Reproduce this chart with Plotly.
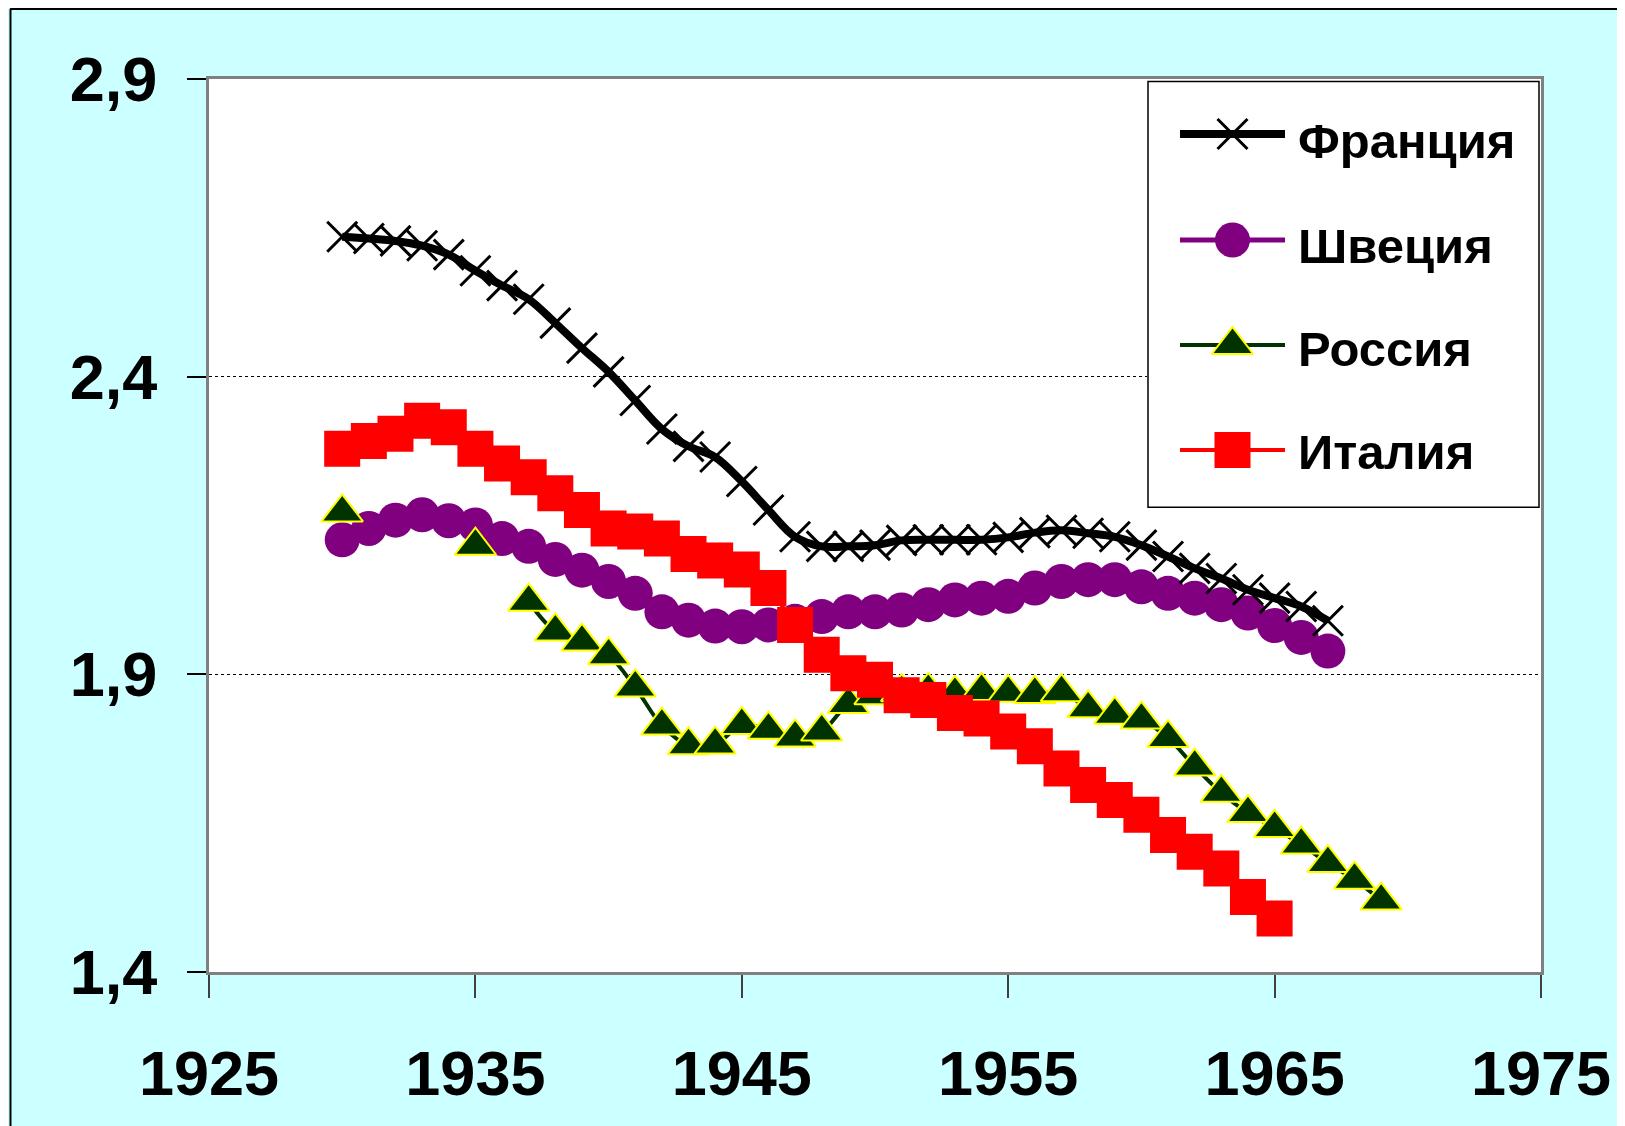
import plotly.graph_objects as go

# ---------------- data ----------------
years_france = list(range(1930, 1968))
france = [2.635, 2.632, 2.628, 2.620, 2.605, 2.578, 2.553, 2.530, 2.490, 2.448,
          2.408, 2.360, 2.312, 2.283, 2.265, 2.224, 2.176, 2.131, 2.115, 2.115,
          2.117, 2.125, 2.126, 2.126, 2.126, 2.130, 2.138, 2.142, 2.137, 2.131,
          2.117, 2.098, 2.078, 2.061, 2.042, 2.028, 2.014, 1.990]

years_sweden = list(range(1930, 1968))
sweden = [2.126, 2.145, 2.159, 2.168, 2.158, 2.151, 2.128, 2.115, 2.093, 2.075,
          2.056, 2.036, 2.005, 1.991, 1.981, 1.980, 1.983, 1.989, 1.997, 2.005,
          2.005, 2.008, 2.017, 2.025, 2.028, 2.031, 2.045, 2.056, 2.059, 2.059,
          2.047, 2.036, 2.028, 2.017, 2.003, 1.982, 1.962, 1.939]

# missing years (1931-1934, 1936) are gaps in the source
years_russia = list(range(1930, 1970))
russia = [2.172, None, None, None, None, 2.116, None, 2.022, 1.972, 1.955,
          1.932, 1.878, 1.814, 1.781, 1.782, 1.815, 1.807, 1.794, 1.804, 1.850,
          1.865, 1.870, 1.872, 1.867, 1.872, 1.869, 1.867, 1.870, 1.843, 1.832,
          1.824, 1.793, 1.745, 1.701, 1.667, 1.642, 1.614, 1.583, 1.555, 1.520]

years_italy = list(range(1930, 1966))
italy = [2.279, 2.292, 2.304, 2.326, 2.315, 2.279, 2.254, 2.231, 2.204, 2.176,
         2.145, 2.140, 2.128, 2.102, 2.091, 2.076, 2.045, 1.983, 1.933, 1.902,
         1.891, 1.865, 1.857, 1.835, 1.826, 1.804, 1.779, 1.742, 1.714, 1.689,
         1.664, 1.630, 1.602, 1.574, 1.526, 1.490]

series_names = ["Франция", "Швеция", "Россия", "Италия"]
x_ticks = [1925, 1935, 1945, 1955, 1965, 1975]
y_ticks = [1.4, 1.9, 2.4, 2.9]
y_tick_text = ["1,4", "1,9", "2,4", "2,9"]

# ---------------- styles ----------------
FONT = "Liberation Sans, Arial, sans-serif"
styles = {
    "Франция": dict(line=dict(color="#000000", width=8, shape="spline"),
                    marker=dict(symbol="x-thin", size=30, color="#000000",
                                line=dict(color="#000000", width=3))),
    "Швеция": dict(line=dict(color="#800080", width=5, shape="spline"),
                   marker=dict(symbol="circle", size=35, color="#800080",
                               line=dict(width=0))),
    "Россия": dict(line=dict(color="#003300", width=4, shape="spline"),
                   marker=dict(symbol="triangle-up", size=36, color="#003300",
                               line=dict(color="#FFFF00", width=2))),
    "Италия": dict(line=dict(color="#FF0000", width=4, shape="spline"),
                   marker=dict(symbol="square", size=36, color="#FF0000",
                               line=dict(width=0))),
}
series_data = {
    "Франция": (years_france, france),
    "Швеция": (years_sweden, sweden),
    "Россия": (years_russia, russia),
    "Италия": (years_italy, italy),
}

fig = go.Figure()

# drawing order (later on top)
for name in ["Швеция", "Франция", "Россия", "Италия"]:
    xs, ys = series_data[name]
    st = styles[name]
    fig.add_trace(go.Scatter(x=xs, y=ys, mode="lines+markers", name=name,
                             line=st["line"], marker=st["marker"],
                             connectgaps=False,
                             showlegend=False, hoverinfo="x+y+name",
                             xaxis="x", yaxis="y"))

# ---------------- geometry (page has an 8px body margin) ----------------
W_PX, H_PX = 1617, 1118
M_L, M_R, M_T, M_B = 201, 84, 71, 154
plot_w = W_PX - M_L - M_R
plot_h = H_PX - M_T - M_B
box_left_px, box_bottom_px = 1139, 500
box_w = (M_L + plot_w) - box_left_px
box_h = box_bottom_px - M_T
dom_x = [(box_left_px - M_L) / plot_w, 1.0]
dom_y = [(M_T + plot_h - box_bottom_px) / plot_h, 1.0]


def px_x(px):
    return (px - M_L) / plot_w


def px_y(py):
    return (M_T + plot_h - py) / plot_h


# ---------------- manual legend (subplot x2/y2 in pixel-like units) ----------------
sample_rows = [55, 161, 266, 371]
text_rows = [62, 167, 270, 373]
for name, ry in zip(series_names, sample_rows):
    st = styles[name]
    ln = dict(st["line"])
    ln["shape"] = "linear"
    fig.add_trace(go.Scatter(x=[33, 138], y=[ry, ry], mode="lines", line=ln,
                             showlegend=False, hoverinfo="skip",
                             xaxis="x2", yaxis="y2"))
    fig.add_trace(go.Scatter(x=[85.5], y=[ry], mode="markers", marker=st["marker"],
                             showlegend=False, hoverinfo="skip",
                             xaxis="x2", yaxis="y2"))

annotations = []
for name, ty in zip(series_names, text_rows):
    annotations.append(dict(x=149, y=ty, xref="x2", yref="y2", text=name,
                            showarrow=False, xanchor="left", yanchor="middle",
                            font=dict(family=FONT, size=49, color="#000000",
                                      weight="bold")))

shapes = [
    # legend box
    dict(type="rect", xref="x2", yref="y2", x0=1, x1=box_w - 2, y0=2.5, y1=box_h - 0.8,
         fillcolor="#FFFFFF", line=dict(color="#000000", width=1.5), layer="below"),
    # outer frame lines (top and left)
    dict(type="line", xref="paper", yref="paper",
         x0=px_x(2), x1=px_x(W_PX + 10), y0=px_y(1), y1=px_y(1),
         line=dict(color="#000000", width=2), layer="above"),
    dict(type="line", xref="paper", yref="paper",
         x0=px_x(2.5), x1=px_x(2.5), y0=px_y(1), y1=px_y(H_PX + 10),
         line=dict(color="#000000", width=2), layer="above"),
]

tick_font = dict(family=FONT, size=63, color="#000000", weight="bold")

fig.update_layout(
    width=W_PX, height=H_PX,
    margin=dict(l=M_L, r=M_R, t=M_T, b=M_B, autoexpand=False),
    paper_bgcolor="#CCFFFF",
    plot_bgcolor="#FFFFFF",
    showlegend=False,
    xaxis=dict(range=[1925, 1975], tickvals=x_ticks, ticktext=[str(v) for v in x_ticks],
               ticks="outside", ticklen=23, tickwidth=1.5, tickcolor="#404040",
               showline=True, linecolor="#808080", linewidth=3, mirror=True,
               showgrid=False, zeroline=False, tickfont=tick_font,
               ticklabelstandoff=21, domain=[0, 1], anchor="y"),
    yaxis=dict(range=[1.4, 2.9], tickvals=y_ticks, ticktext=y_tick_text,
               ticks="outside", ticklen=19, tickwidth=2, tickcolor="#000000",
               showline=True, linecolor="#808080", linewidth=3, mirror=True,
               showgrid=True, gridcolor="#000000", gridwidth=1, griddash="3px,3px",
               zeroline=False, tickfont=tick_font, ticklabelstandoff=17,
               domain=[0, 1], anchor="x"),
    xaxis2=dict(domain=dom_x, range=[0, box_w], visible=False, anchor="y2",
                fixedrange=True, showgrid=False, zeroline=False),
    yaxis2=dict(domain=dom_y, range=[box_h, 0], visible=False, anchor="x2",
                fixedrange=True, showgrid=False, zeroline=False),
    shapes=shapes,
    annotations=annotations,
)

fig.write_html("out.html")
